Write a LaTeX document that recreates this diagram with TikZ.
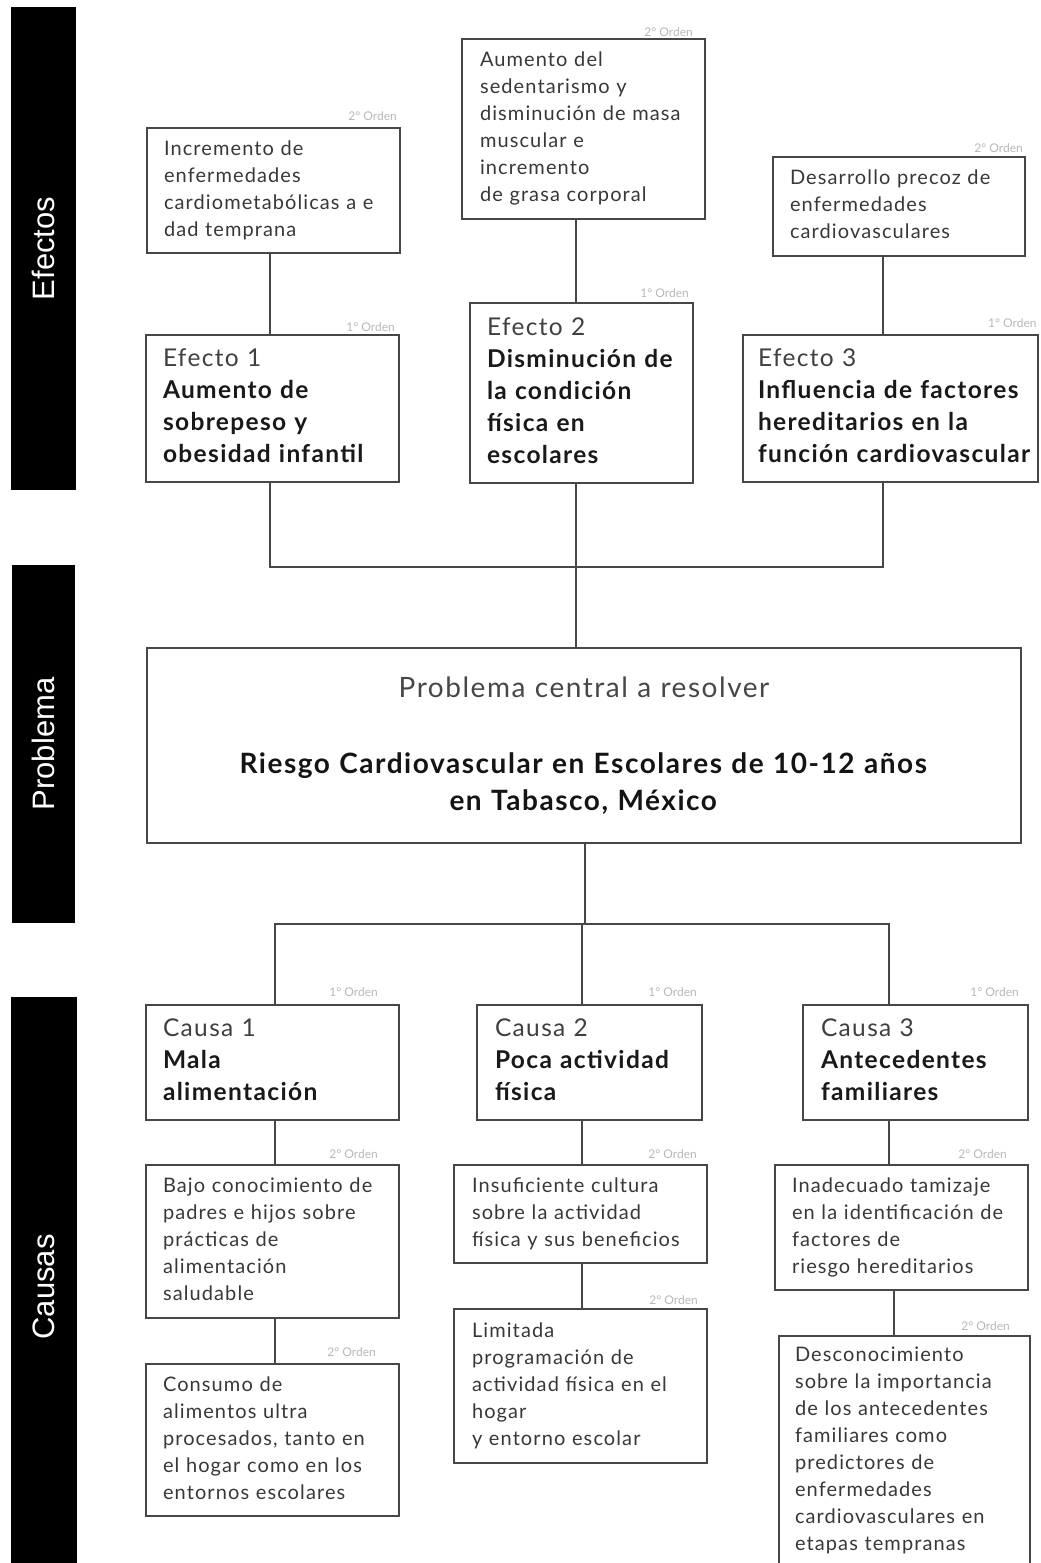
\documentclass[tikz,border=0pt]{standalone}
\usepackage{fontspec}
\setmainfont{Lato}[LetterSpace=5.5]
\newfontfamily\ordfont{Lato}
\newfontfamily\sidefont{Liberation Sans}
\newcommand{\boxlines}[1]{\begin{tabular}{@{}l@{}}#1\end{tabular}}
\tikzset{
 box/.style={draw=black!72, line width=2pt, anchor=north west, inner ysep=0pt, outer sep=0pt, align=left},
 small/.style={font=\fontsize{20}{27}\selectfont, text=black!78},
 big/.style={font=\fontsize{24.5}{32}\selectfont, text=black!90},
 ord/.style={font=\ordfont\fontsize{12}{13}\selectfont, text=black!28, inner sep=0pt},
 conn/.style={draw=black!72, line width=2pt},
 bar/.style={fill=black, text=white, font=\sidefont\fontsize{31}{36}\selectfont, rotate=90, inner sep=0pt},
}
\begin{document}
\begin{tikzpicture}[x=1pt,y=-1pt]
\clip (0,0) rectangle (1041,1563);
\fill[white] (0,0) rectangle (1041,1563);

% side bars
\node[bar, minimum width=483, minimum height=65] (bE) at (43.5,248.5) {Efectos};
\node[bar, minimum width=358, minimum height=63] (bP) at (43.5,744) {Problema};
\node[bar, minimum width=580, minimum height=66] (bC) at (44,1287) {Causas};

% effects, second order
\node[box, small, inner xsep=17, text width=219, minimum width=253, minimum height=125] (e1s) at (147,128)
 {\boxlines{Incremento de\\enfermedades\\cardiometabólicas a e\\dad temprana}};
\node[box, small, inner xsep=18, text width=207, minimum width=243, minimum height=180] (e2s) at (462,39)
 {\boxlines{Aumento del\\sedentarismo y\\disminución de masa\\muscular e\\incremento\\de grasa corporal}};
\node[box, small, inner xsep=17, text width=218, minimum width=252, minimum height=99] (e3s) at (773,157)
 {\boxlines{Desarrollo precoz de\\enfermedades\\cardiovasculares}};

% effects, first order
\node[box, big, inner xsep=17, text width=219, minimum width=253, minimum height=147] (e1) at (146,335)
 {\boxlines{\textcolor{black!75}{Efecto 1}\\\textbf{Aumento de}\\\textbf{sobrepeso y}\\\textbf{obesidad infantil}}};
\node[box, big, inner xsep=17, text width=189, minimum width=223, minimum height=180] (e2) at (470,303)
 {\boxlines{\textcolor{black!75}{Efecto 2}\\\textbf{Disminución de}\\\textbf{la condición}\\\textbf{física en}\\\textbf{escolares}}};
\node[box, big, inner xsep=15, text width=265, minimum width=295, minimum height=147] (e3) at (743,335)
 {\boxlines{\textcolor{black!75}{Efecto 3}\\\textbf{Influencia de factores}\\\textbf{hereditarios en la}\\\textbf{función cardiovascular}}};

% central problem
\node[box, align=center, inner xsep=17, text width=840, minimum width=874, minimum height=195,
 font=\fontsize{28}{37}\selectfont, text=black!92] (prob) at (147,648)
 {\textcolor{black!72}{Problema central a resolver}\\[39pt]
  \textbf{Riesgo Cardiovascular en Escolares de 10-12 años}\\
  \textbf{en Tabasco, México}};

% causes, first order
\node[box, big, inner xsep=17, text width=219, minimum width=253, minimum height=115] (c1) at (146,1005)
 {\boxlines{\textcolor{black!75}{Causa 1}\\\textbf{Mala}\\\textbf{alimentación}}};
\node[box, big, inner xsep=18, text width=189, minimum width=225, minimum height=115] (c2) at (477,1005)
 {\boxlines{\textcolor{black!75}{Causa 2}\\\textbf{Poca actividad}\\\textbf{física}}};
\node[box, big, inner xsep=18, text width=189, minimum width=225, minimum height=115] (c3) at (803,1005)
 {\boxlines{\textcolor{black!75}{Causa 3}\\\textbf{Antecedentes}\\\textbf{familiares}}};

% causes, second order
\node[box, small, inner xsep=17, text width=219, minimum width=253, minimum height=153] (c1a) at (146,1165)
 {\boxlines{Bajo conocimiento de\\padres e hijos sobre\\prácticas de\\alimentación\\saludable}};
\node[box, small, inner xsep=17, text width=219, minimum width=253, minimum height=152] (c1b) at (146,1364)
 {\boxlines{Consumo de\\alimentos ultra\\procesados, tanto en\\el hogar como en los\\entornos escolares}};
\node[box, small, inner xsep=18, text width=217, minimum width=253, minimum height=98] (c2a) at (454,1165)
 {\boxlines{Insuficiente cultura\\sobre la actividad\\física y sus beneficios}};
\node[box, small, inner xsep=18, text width=217, minimum width=253, minimum height=154] (c2b) at (454,1309)
 {\boxlines{Limitada\\programación de\\actividad física en el\\hogar\\y entorno escolar}};
\node[box, small, inner xsep=17, text width=219, minimum width=253, minimum height=125] (c3a) at (775,1165)
 {\boxlines{Inadecuado tamizaje\\en la identificación de\\factores de\\riesgo hereditarios}};
\node[box, small, inner xsep=16, text width=219, minimum width=251, minimum height=230] (c3b) at (779,1336)
 {\boxlines{Desconocimiento\\sobre la importancia\\de los antecedentes\\familiares como\\predictores de\\enfermedades\\cardiovasculares en\\etapas tempranas}};

% order labels
\node[ord, anchor=east] (le1s) at (397,116) {2° Orden};
\node[ord, anchor=east] (le1) at (395,327) {1° Orden};
\node[ord, anchor=east] (le2s) at (693,32) {2° Orden};
\node[ord, anchor=east] (le2) at (689,293) {1° Orden};
\node[ord, anchor=east] (le3s) at (1023,148) {2° Orden};
\node[ord, anchor=west] (le3) at (988,323) {1° Orden};
\node[ord, anchor=east] (lc1) at (378,992) {1° Orden};
\node[ord, anchor=east] (lc2) at (697,992) {1° Orden};
\node[ord, anchor=east] (lc3) at (1019,992) {1° Orden};
\node[ord, anchor=east] (lc1a) at (378,1154) {2° Orden};
\node[ord, anchor=east] (lc1b) at (376,1352) {2° Orden};
\node[ord, anchor=east] (lc2a) at (697,1154) {2° Orden};
\node[ord, anchor=east] (lc2b) at (698,1300) {2° Orden};
\node[ord, anchor=east] (lc3a) at (1007,1154) {2° Orden};
\node[ord, anchor=east] (lc3b) at (1010,1326) {2° Orden};

% connector guide coordinates
\coordinate (xa) at (270,0);
\coordinate (xb) at (576,0);
\coordinate (xc) at (883,0);
\coordinate (ja) at (0,567);
\coordinate (xd) at (275,0);
\coordinate (xe) at (582,0);
\coordinate (xf) at (889,0);
\coordinate (xg) at (894,0);
\coordinate (xp) at (585,0);
\coordinate (jb) at (0,924);

% connectors: effects
\draw[conn] (e1s.south -| xa) -- (e1.north -| xa);
\draw[conn] (e2s.south -| xb) -- (e2.north -| xb);
\draw[conn] (e3s.south -| xc) -- (e3.north -| xc);
\draw[conn] (e1.south -| xa) -- (ja -| xa) -- (ja -| xc) -- (e3.south -| xc);
\draw[conn] (e2.south -| xb) -- (prob.north -| xb);

% connectors: causes
\draw[conn] (prob.south -| xp) -- (jb -| xp);
\draw[conn] (c1.north -| xd) -- (jb -| xd) -- (jb -| xf) -- (c3.north -| xf);
\draw[conn] (c2.north -| xe) -- (jb -| xe);
\draw[conn] (c1.south -| xd) -- (c1a.north -| xd);
\draw[conn] (c1a.south -| xd) -- (c1b.north -| xd);
\draw[conn] (c2.south -| xe) -- (c2a.north -| xe);
\draw[conn] (c2a.south -| xe) -- (c2b.north -| xe);
\draw[conn] (c3.south -| xf) -- (c3a.north -| xf);
\draw[conn] (c3a.south -| xg) -- (c3b.north -| xg);
\end{tikzpicture}
\end{document}
